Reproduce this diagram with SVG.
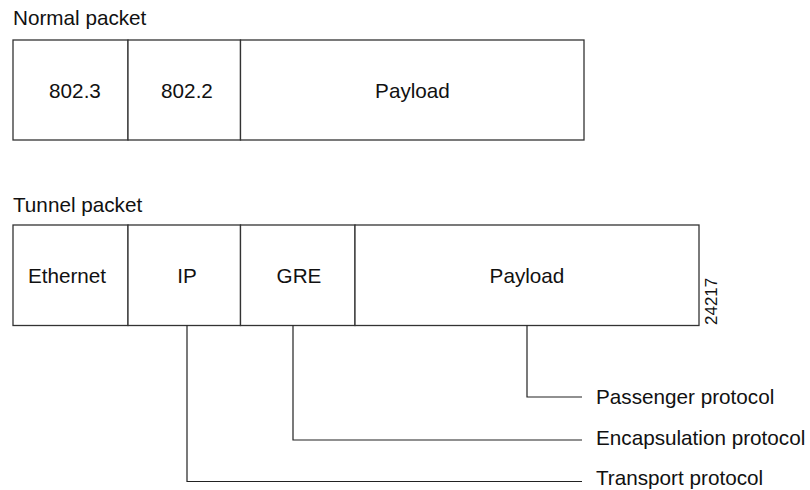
<svg xmlns="http://www.w3.org/2000/svg" width="810" height="490" viewBox="0 0 810 490">
<style>
text{font-family:"Liberation Sans",Arial,Helvetica,sans-serif;font-size:20.7px;fill:#111}
.cell{fill:#fff;stroke:#333;stroke-width:1.3}
.conn{fill:none;stroke:#222;stroke-width:1.2}
.mid{text-anchor:middle}
</style>
<rect width="810" height="490" fill="#fff"/>
<g id="normal-title"><text x="13" y="25">Normal packet</text></g>
<g id="normal-packet">
<g id="n-8023"><rect class="cell" x="13" y="40" width="115" height="100"/><text class="mid" x="75" y="98">802.3</text></g>
<g id="n-8022"><rect class="cell" x="128" y="40" width="112.5" height="100"/><text class="mid" x="187" y="98">802.2</text></g>
<g id="n-payload"><rect class="cell" x="240.5" y="40" width="343.5" height="100"/><text class="mid" x="412.5" y="98">Payload</text></g>
</g>
<g id="tunnel-title"><text x="13" y="212">Tunnel packet</text></g>
<g id="tunnel-packet">
<g id="t-ethernet"><rect class="cell" x="13" y="225" width="115" height="100.5"/><text class="mid" x="67" y="283">Ethernet</text></g>
<g id="t-ip"><rect class="cell" x="128" y="225" width="112.5" height="100.5"/><text class="mid" x="187" y="283">IP</text></g>
<g id="t-gre"><rect class="cell" x="240.5" y="225" width="114.5" height="100.5"/><text class="mid" x="299" y="283">GRE</text></g>
<g id="t-payload"><rect class="cell" x="355" y="225" width="344" height="100.5"/><text class="mid" x="527" y="283">Payload</text></g>
</g>
<g id="figure-number"><text x="0" y="0" transform="translate(717,325) rotate(-90)" style="font-size:17px">24217</text></g>
<g id="connectors">
<path class="conn" d="M527 325.5 V397 H582"/>
<path class="conn" d="M293 325.5 V440 H582"/>
<path class="conn" d="M187 325.5 V481.5 H582"/>
</g>
<g id="label-passenger"><text x="596" y="404">Passenger protocol</text></g>
<g id="label-encapsulation"><text x="596" y="445">Encapsulation protocol</text></g>
<g id="label-transport"><text x="596" y="485">Transport protocol</text></g>
</svg>
